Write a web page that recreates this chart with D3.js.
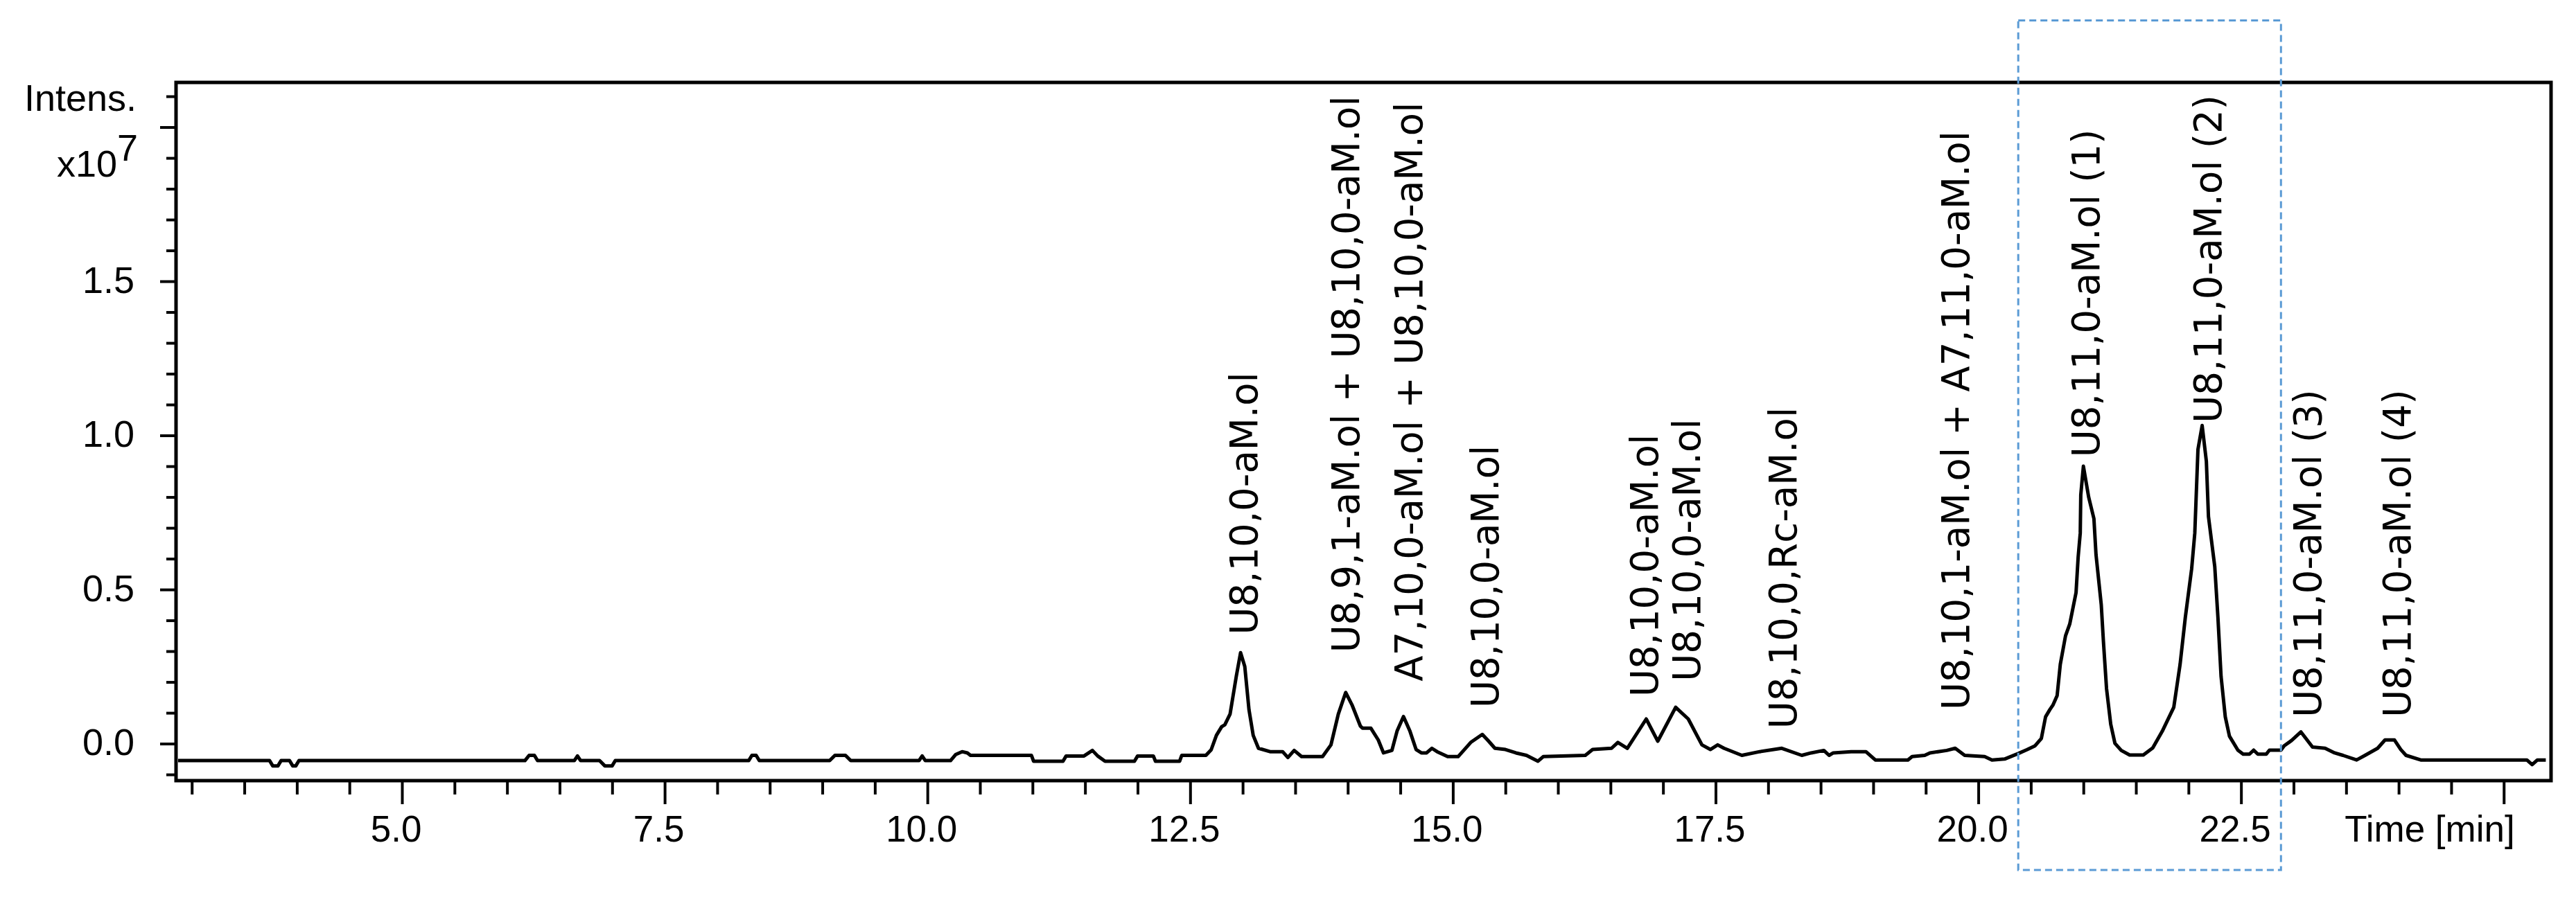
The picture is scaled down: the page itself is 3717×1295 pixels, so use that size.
<!DOCTYPE html>
<html>
<head>
<meta charset="utf-8">
<script src="https://cdn.jsdelivr.net/npm/d3@7"></script>
<style>
  html, body { margin: 0; padding: 0; background: #fff; }
  svg { display: block; }
</style>
</head>
<body>
<script>
// chromatogram trace (time in min, intensity in 1e7)
const times = [
  2.87, 3.74, 3.77, 3.82, 3.85, 3.93, 3.96, 3.99, 4.02, 6.17, 6.21, 6.26, 6.29, 6.64, 6.67, 6.70,
  6.88, 6.93, 7.00, 7.03, 8.30, 8.33, 8.37, 8.40, 9.07, 9.12, 9.22, 9.27, 9.92, 9.95, 9.98, 10.22,
  10.27, 10.33, 10.38, 10.41, 10.99, 11.01, 11.29, 11.32, 11.49, 11.57, 11.62, 11.69, 11.97, 12.00,
  12.15, 12.17, 12.40, 12.42, 12.65, 12.70, 12.75, 12.80, 12.83, 12.88, 12.94, 12.98, 13.02, 13.06,
  13.10, 13.15, 13.26, 13.38, 13.43, 13.49, 13.56, 13.76, 13.84, 13.91, 13.98, 14.04, 14.12, 14.14,
  14.22, 14.29, 14.34, 14.42, 14.47, 14.53, 14.59, 14.65, 14.70, 14.75, 14.80, 14.85, 14.95, 15.05,
  15.17, 15.28, 15.33, 15.40, 15.50, 15.60, 15.70, 15.81, 15.86, 16.26, 16.33, 16.51, 16.57, 16.66,
  16.84, 16.95, 17.12, 17.24, 17.37, 17.45, 17.52, 17.58, 17.75, 17.92, 18.13, 18.32, 18.41, 18.53,
  18.58, 18.62, 18.79, 18.93, 19.02, 19.33, 19.37, 19.49, 19.54, 19.70, 19.78, 19.87, 20.06, 20.13,
  20.25, 20.38, 20.46, 20.54, 20.60, 20.64, 20.68, 20.71, 20.75, 20.78, 20.83, 20.87, 20.93, 20.95,
  20.97, 20.975, 21.00, 21.05, 21.10, 21.12, 21.17, 21.19, 21.22, 21.26, 21.30, 21.36, 21.44, 21.57,
  21.66, 21.75, 21.86, 21.92, 21.97, 22.03, 22.06, 22.09, 22.13, 22.17, 22.19, 22.25, 22.28, 22.31,
  22.35, 22.39, 22.47, 22.52, 22.58, 22.62, 22.66, 22.74, 22.77, 22.88, 22.91, 22.98,
  23.07, 23.18, 23.30, 23.39, 23.47, 23.60, 23.68, 23.80,
  23.87, 23.96, 24.02, 24.07, 24.21, 25.22, 25.27, 25.32, 25.40
];
const intensities = [
  -0.055, -0.055, -0.072, -0.072, -0.055, -0.055, -0.072, -0.072, -0.055, -0.055, -0.038, -0.038, -0.055, -0.055, -0.040, -0.055,
  -0.055, -0.072, -0.072, -0.055, -0.055, -0.038, -0.038, -0.055, -0.055, -0.038, -0.038, -0.055, -0.055, -0.040, -0.055, -0.055,
  -0.035, -0.026, -0.030, -0.038, -0.038, -0.057, -0.057, -0.040, -0.040, -0.022, -0.040, -0.057, -0.057, -0.040,
  -0.040, -0.057, -0.057, -0.038, -0.038, -0.020, 0.027, 0.055, 0.061, 0.096, 0.220, 0.295, 0.250, 0.110,
  0.027, -0.015, -0.026, -0.026, -0.045, -0.022, -0.042, -0.042, -0.004, 0.096, 0.166, 0.126, 0.057, 0.050,
  0.050, 0.012, -0.030, -0.022, 0.042, 0.088, 0.042, -0.019, -0.030, -0.030, -0.015, -0.026, -0.042, -0.042,
  0.004, 0.030, 0.012, -0.015, -0.019, -0.030, -0.038, -0.057, -0.042, -0.038, -0.019, -0.015, 0.004, -0.015,
  0.080, 0.008, 0.118, 0.080, -0.004, -0.019, -0.004, -0.015, -0.038, -0.026, -0.015, -0.038, -0.030, -0.022,
  -0.038, -0.030, -0.026, -0.026, -0.053, -0.053, -0.042, -0.038, -0.030, -0.022, -0.015, -0.038, -0.042, -0.053,
  -0.050, -0.032, -0.020, -0.007, 0.017, 0.087, 0.110, 0.125, 0.156, 0.257, 0.350, 0.388, 0.490, 0.605,
  0.683, 0.807, 0.900, 0.800, 0.730, 0.613, 0.450, 0.334, 0.179, 0.063, 0.001, -0.022, -0.037, -0.037,
  -0.014, 0.040, 0.118, 0.257, 0.410, 0.567, 0.683, 0.954, 1.032, 0.916, 0.737, 0.574, 0.410, 0.218,
  0.087, 0.024, -0.021, -0.034, -0.034, -0.021, -0.034, -0.034, -0.021, -0.021, -0.007, 0.010,
  0.038, -0.011, -0.015, -0.030, -0.038, -0.053, -0.038, -0.015,
  0.012, 0.012, -0.019, -0.038, -0.053, -0.053, -0.068, -0.053, -0.053
];

// peak annotations: name, time of label, intensity at label foot
const peakNames = [
  "U8,10,0-aM.ol",
  "U8,9,1-aM.ol + U8,10,0-aM.ol",
  "A7,10,0-aM.ol + U8,10,0-aM.ol",
  "U8,10,0-aM.ol",
  "U8,10,0-aM.ol",
  "U8,10,0-aM.ol",
  "U8,10,0,Rc-aM.ol",
  "U8,10,1-aM.ol + A7,11,0-aM.ol",
  "U8,11,0-aM.ol (1)",
  "U8,11,0-aM.ol (2)",
  "U8,11,0-aM.ol (3)",
  "U8,11,0-aM.ol (4)"
];
const peakTimes = [13.01, 13.98, 14.58, 15.30, 16.82, 17.22, 18.14, 19.78, 21.02, 22.18, 23.13, 23.98];
const peakLevels = [0.353, 0.295, 0.202, 0.116, 0.152, 0.202, 0.048, 0.109, 0.929, 1.04, 0.085, 0.085];

// highlighted time window (dashed box)
const boxTimes = [20.38, 22.88];
const boxLevels = [-0.41, 2.346];

// axes
const xTickValues = [5, 7.5, 10, 12.5, 15, 17.5, 20, 22.5, 25];
const xTickLabels = ["5.0", "7.5", "10.0", "12.5", "15.0", "17.5", "20.0", "22.5", ""];
const yTickValues = [0, 0.5, 1.0, 1.5, 2.0];
const yTickLabels = ["0.0", "0.5", "1.0", "1.5", ""];

const W = 3717, H = 1295;
const sansAxis = "'Liberation Sans', Arial, sans-serif";
const sansLabel = "'DejaVu Sans', sans-serif";

const svg = d3.select("body").append("svg")
    .attr("width", W)
    .attr("height", H)
    .style("background", "#fff");

const x = d3.scaleLinear().domain([2.85, 25.45]).range([254, 3681]);
const y = d3.scaleLinear().domain([-0.12, 2.145]).range([1127, 119]);

const [x0, x1] = x.range();
const [yb, yt] = y.range();

// minor ticks
const xMinor = d3.range(6, 51).filter(i => i % 5 !== 0).map(i => i / 2);
const yMinor = d3.range(-1, 22).filter(i => i % 5 !== 0).map(i => i / 10);

const axisStyle = g => {
    g.select(".domain").remove();
    g.selectAll("line").attr("stroke", "#000").attr("stroke-width", 4);
};

svg.append("g")
    .attr("transform", `translate(0,${yb})`)
    .call(d3.axisBottom(x).tickValues(xMinor).tickSize(20).tickFormat(""))
    .call(axisStyle);

svg.append("g")
    .attr("transform", `translate(0,${yb})`)
    .call(d3.axisBottom(x).tickValues(xTickValues).tickSize(34)
        .tickFormat((d, i) => xTickLabels[i]))
    .call(axisStyle)
    .call(g => g.selectAll("text")
        .attr("y", 88)
        .attr("dy", 0)
        .attr("dx", -9)
        .attr("fill", "#000")
        .style("font-family", sansAxis)
        .style("font-size", "53px"));

svg.append("g")
    .attr("transform", `translate(${x0},0)`)
    .call(d3.axisLeft(y).tickValues(yMinor).tickSize(14).tickFormat(""))
    .call(axisStyle);

svg.append("g")
    .attr("transform", `translate(${x0},0)`)
    .call(d3.axisLeft(y).tickValues(yTickValues).tickSize(23)
        .tickFormat((d, i) => yTickLabels[i]))
    .call(axisStyle)
    .call(g => g.selectAll("text")
        .attr("x", -60)
        .attr("dy", "0.3em")
        .attr("fill", "#000")
        .style("font-family", sansAxis)
        .style("font-size", "54px"));

// frame
svg.append("rect")
    .attr("x", x0)
    .attr("y", yt)
    .attr("width", x1 - x0)
    .attr("height", yb - yt)
    .attr("fill", "none")
    .attr("stroke", "#000")
    .attr("stroke-width", 5);

// axis titles
svg.append("text")
    .attr("x", 197)
    .attr("y", 160)
    .attr("text-anchor", "end")
    .style("font-family", sansAxis)
    .style("font-size", "54px")
    .text("Intens.");

const expo = svg.append("text")
    .attr("x", 199)
    .attr("y", 255)
    .attr("text-anchor", "end")
    .style("font-family", sansAxis)
    .style("font-size", "54px");
expo.append("tspan").text("x10");
expo.append("tspan").attr("dy", -23).text("7");

svg.append("text")
    .attr("x", 3506)
    .attr("y", 1215)
    .attr("text-anchor", "middle")
    .style("font-family", sansAxis)
    .style("font-size", "53px")
    .text("Time [min]");

// trace
const trace = d3.zip(times, intensities);
svg.append("path")
    .datum(trace)
    .attr("fill", "none")
    .attr("stroke", "#000")
    .attr("stroke-width", 5)
    .attr("stroke-linejoin", "round")
    .attr("d", d3.line().x(d => x(d[0])).y(d => y(d[1])));

// peak labels
svg.append("g")
    .selectAll("text")
    .data(peakNames)
    .join("text")
    .attr("transform", (d, i) => `translate(${x(peakTimes[i])},${y(peakLevels[i])}) rotate(-90)`)
    .attr("dy", "0.36em")
    .attr("text-anchor", "start")
    .attr("fill", "#000")
    .style("font-family", sansLabel)
    .style("font-size", "54.5px")
    .text(d => d);

// dashed highlight box
svg.append("rect")
    .attr("x", x(boxTimes[0]))
    .attr("y", y(boxLevels[1]))
    .attr("width", x(boxTimes[1]) - x(boxTimes[0]))
    .attr("height", y(boxLevels[0]) - y(boxLevels[1]))
    .attr("fill", "none")
    .attr("stroke", "#5b9bd5")
    .attr("stroke-width", 3)
    .attr("stroke-dasharray", "10,6");
</script>
</body>
</html>
